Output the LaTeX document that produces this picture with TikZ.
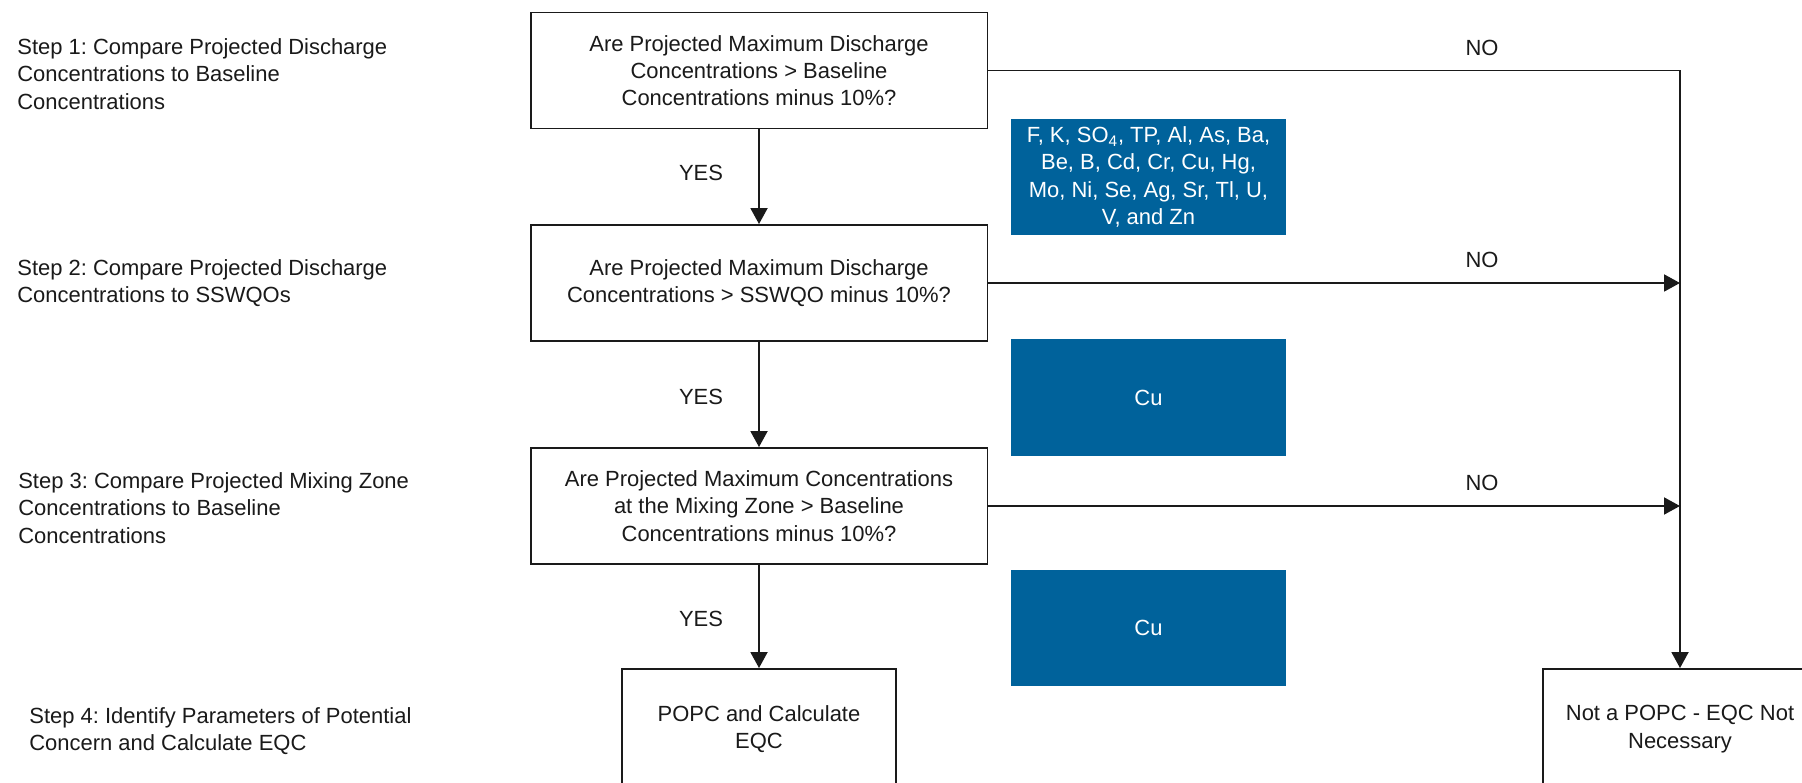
\documentclass[tikz,border=0pt]{standalone}
\usepackage{fontspec}
\setmainfont{Liberation Sans}
\usetikzlibrary{arrows.meta}
\definecolor{flowblue}{HTML}{00629B}
\definecolor{darktext}{HTML}{1A1A1A}
\frenchspacing

\begin{document}
\begin{tikzpicture}[
  x=0.02cm, y=-0.02cm,
  txt/.style={font=\fontsize{12.5}{15.5}\selectfont, text=darktext},
  question/.style={rectangle, draw=darktext, line width=1.1pt, txt,
                   minimum width=9.14cm, minimum height=2.32cm,
                   align=center, inner sep=0pt},
  outcome/.style={question, minimum width=5.48cm, minimum height=2.4cm},
  param/.style={rectangle, fill=flowblue, txt, text=white, align=center,
                minimum width=5.5cm, minimum height=2.34cm, inner sep=0pt},
  steptext/.style={txt, anchor=west, align=left, inner sep=0pt},
  flow/.style={-{Triangle[length=0.32cm, width=0.34cm]}, line width=1.1pt, draw=darktext},
  answer/.style={txt},
]
  \clip (0,0) rectangle (1802,783);
  \fill[white] (0,0) rectangle (1802,783);

  % steps on the left
  \node[steptext] (s1) at (17,74) {Step 1: Compare Projected Discharge\\Concentrations to Baseline\\Concentrations};
  \node[steptext] (s2) at (17,283) {Step 2: Compare Projected Discharge\\Concentrations to SSWQOs};
  \node[steptext] (s3) at (18,508) {Step 3: Compare Projected Mixing Zone\\Concentrations to Baseline\\Concentrations};
  \node[steptext] (s4) at (29,731) {Step 4: Identify Parameters of Potential\\Concern and Calculate EQC};

  % decision boxes
  \node[question] (q1) at (759,70.5) {Are Projected Maximum Discharge\\Concentrations > Baseline\\Concentrations minus 10\%?};
  \node[question] (q2) at (759,283) {Are Projected Maximum Discharge\\Concentrations > SSWQO minus 10\%?};
  \node[question] (q3) at (759,506) {Are Projected Maximum Concentrations\\at the Mixing Zone > Baseline\\Concentrations minus 10\%?};
  \node[outcome] (popc) at (759,729) {POPC and Calculate\\EQC};
  \node[outcome] (nopopc) at (1680,729) {Not a POPC - EQC Not\\Necessary};

  % parameters passing each step
  \node[param] (p1) at (1148.5,177) {F, K, SO\textsubscript{4}, TP, Al, As, Ba,\\Be, B, Cd, Cr, Cu, Hg,\\Mo, Ni, Se, Ag, Sr, Tl, U,\\V, and Zn};
  \node[param] (p2) at (1148.5,397.5) {Cu};
  \node[param] (p3) at (1148.5,628) {Cu};

  % yes branch
  \draw[flow] (q1) -- (q2);
  \draw[flow] (q2) -- (q3);
  \draw[flow] (q3) -- (popc);
  \node[answer] (y1) at (701,173) {YES};
  \node[answer] (y2) at (701,397) {YES};
  \node[answer] (y3) at (701,619) {YES};

  % no branch
  \draw[flow] (q1.east) -| (nopopc.north);
  \draw[flow] (q2.east) -- (q2.east -| nopopc.north);
  \draw[flow] (q3.east) -- (q3.east -| nopopc.north);
  \node[answer] (n1) at (1482,48) {NO};
  \node[answer] (n2) at (1482,260) {NO};
  \node[answer] (n3) at (1482,483) {NO};
\end{tikzpicture}
\end{document}
